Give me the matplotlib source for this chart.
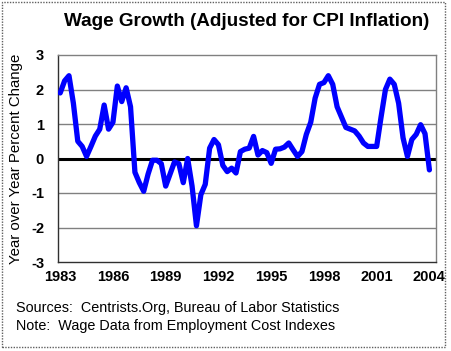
import numpy as np
import matplotlib
matplotlib.use("Agg")
import matplotlib.pyplot as plt
from matplotlib.patches import Rectangle

plt.rcParams['font.family'] = ['Liberation Sans', 'DejaVu Sans']

wage_growth = [
    1.9, 2.25, 2.4, 1.6, 0.5, 0.35, 0.06, 0.35, 0.65, 0.85,
    1.55, 0.85, 1.05, 2.1, 1.65, 2.05, 1.5, -0.4, -0.7, -0.95,
    -0.45, -0.05, -0.05, -0.15, -0.8, -0.45, -0.1, -0.15, -0.7, 0.0,
    -0.8, -1.95, -1.05, -0.75, 0.3, 0.55, 0.4, -0.2, -0.38, -0.28,
    -0.42, 0.2, 0.27, 0.3, 0.64, 0.1, 0.23, 0.17, -0.14, 0.27,
    0.28, 0.33, 0.45, 0.25, 0.06, 0.2, 0.7, 1.05, 1.75, 2.15,
    2.2, 2.4, 2.15, 1.5, 1.2, 0.9, 0.85, 0.8, 0.65, 0.45,
    0.35, 0.35, 0.35, 1.2, 2.0, 2.3, 2.15, 1.6, 0.6, 0.06,
    0.55, 0.7, 0.98, 0.72, -0.33,
]
n_categories = 86
year_labels = ['1983', '1986', '1989', '1992', '1995', '1998', '2001', '2004']
y_ticks = [-3, -2, -1, 0, 1, 2, 3]

fig = plt.figure(figsize=(4.51, 3.51), dpi=100)
ax = fig.add_axes([58 / 451, 1 - 262 / 351, 378 / 451, 207 / 351])

# gridlines
for v in [-2, -1, 1, 2]:
    ax.axhline(v, color='#808080', lw=1.0, zorder=1)
ax.axhline(0, color='black', lw=2.2, zorder=2)

x = np.arange(len(wage_growth))
ax.plot(x, wage_growth, color='#0000ff', lw=3.8, solid_joinstyle='round',
        solid_capstyle='round', zorder=3)

ax.set_xlim(-0.5, n_categories - 0.5)
ax.set_ylim(-3, 3)
ax.set_yticks(y_ticks)
ax.set_yticklabels([str(t) for t in y_ticks], fontsize=10.5, fontweight='bold')
ax.set_xticks(np.arange(len(year_labels)) * 12)
ax.set_xticklabels(year_labels, fontsize=10.5, fontweight='bold')
ax.tick_params(length=0, pad=6)
ax.tick_params(axis='y', pad=10)

for side in ['left', 'bottom']:
    ax.spines[side].set_color('#303030')
    ax.spines[side].set_linewidth(1.0)
for side in ['top', 'right']:
    ax.spines[side].set_color('#808080')
    ax.spines[side].set_linewidth(1.0)
    ax.spines[side].set_linestyle((0, (1, 1)))

ax.set_ylabel('Year over Year Percent Change', fontsize=10.8)
ax.yaxis.set_label_coords(-0.093, 0.5)

fig.text(247 / 451, 1 - 21 / 351, 'Wage Growth (Adjusted for CPI Inflation)',
         ha='center', va='center', fontsize=13.6, fontweight='bold')
fig.text(16 / 451, 1 - 308 / 351, 'Sources:  Centrists.Org, Bureau of Labor Statistics',
         ha='left', va='center', fontsize=10.4)
fig.text(16 / 451, 1 - 326 / 351, 'Note:  Wage Data from Employment Cost Indexes',
         ha='left', va='center', fontsize=10.4)

# dotted frame around the whole picture
fig.patches.append(Rectangle((2 / 451, 4 / 351), 443 / 451, 345 / 351,
                             transform=fig.transFigure, fill=False,
                             edgecolor='#606060', lw=1.0, linestyle=(0, (1, 1))))

fig.savefig('out.png', dpi=100)
